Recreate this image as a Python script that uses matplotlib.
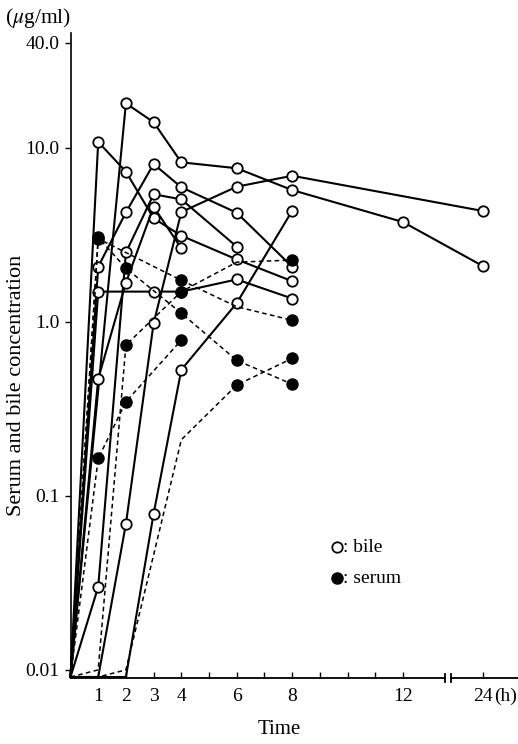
import numpy as np
import matplotlib
matplotlib.use("Agg")
import matplotlib.pyplot as plt

plt.rcParams['font.family'] = ['Liberation Serif', 'DejaVu Serif']
plt.rcParams['mathtext.fontset'] = 'stix'

ND = 0.0091  # not detected (plotted on the axis)

# ---- bile (open circles, solid lines) ----
bile_t = [
    [0, 2, 3, 4, 6, 8, 12, 24],
    [0, 1, 2, 3, 4, 6, 8],
    [0, 1, 2, 3, 4, 6, 8],
    [0, 1, 2, 3, 4, 6],
    [0, 1, 2, 3, 4],
    [0, 1, 3, 4, 6, 8],
    [0, 1, 2, 3, 4, 6, 8, 24],
    [0, 1, 2, 3, 4, 6, 8],
]
bile_v = [
    [ND, 18.0, 14.0, 8.24, 7.62, 5.71, 3.74, 2.09],
    [ND, 10.8, 7.28, 3.93, 3.12, 2.28, 1.71],
    [ND, 2.07, 4.25, 8.06, 5.92, 4.23, 2.07],
    [ND, 0.030, 2.5, 5.4, 5.05, 2.70],
    [ND, 0.47, 1.68, 4.58, 2.64],
    [ND, 1.49, 1.49, 1.49, 1.75, 1.36],
    [ND, ND, 0.069, 0.98, 4.27, 5.97, 6.9, 4.33],
    [ND, ND, ND, 0.079, 0.53, 1.28, 4.34],
]

# ---- serum (filled circles, dashed lines) ----
serum_t = [
    [0, 1, 2, 4, 6, 8],
    [0, 1, 2, 4],
    [0, 1, 2, 4, 6, 8],
    [0, 1, 2, 4, 6, 8],
    [0, 1, 4, 6, 8],
]
serum_v = [
    [ND, 3.05, 2.03, 1.12, 0.60, 0.438],
    [ND, 0.164, 0.347, 0.785],
    [ND, 0.0100, 0.735, 1.49, 2.2, 2.26],
    [ND, ND, 0.0100, 0.21, 0.433, 0.616],
    [ND, 3.0, 1.73, 1.22, 1.02],
]
serum_hidden_t = [[], [], [6], [4], [6]]

x_major = [1, 2, 3, 4, 6, 8, 12, 24]
x_major_labels = ['1', '2', '3', '4', '6', '8', '12', '24']
x_minor = [5, 7, 9, 10, 11]
y_ticks = [0.01, 0.1, 1.0, 10.0, 40.0]
y_labels = ['0.01', '0.1', '1.0', '10.0', '40.0']

# broken time axis: 13.5 h .. 22.9 h compressed
BRK_L, BRK_R = 13.52, 22.86
kt = [-100.0, BRK_L, BRK_R, 200.0]
kx = [-100.0, BRK_L, 13.74, 200.0 - (BRK_R - 13.74)]


def fwd(t):
    return np.interp(np.asarray(t, float), kt, kx)


def inv(x):
    return np.interp(np.asarray(x, float), kx, kt)


fig = plt.figure(figsize=(5.18, 7.44), dpi=100)
ax = fig.add_axes([70.5 / 518, 66 / 744, (518 - 70.5) / 518, (678 - 33) / 744])
ax.set_xscale('function', functions=(fwd, inv))
ax.set_yscale('log')
ax.set_xlim(0, 25.27)
ax.set_ylim(0.00898, 45.6)

for t, v in zip(bile_t, bile_v):
    me = [i for i, val in enumerate(v) if val > 0.0101]
    ax.plot(t, v, '-', color='black', lw=1.5, marker='o', ms=7.5,
            mfc='white', mec='black', mew=1.3, markevery=me, zorder=3,
            clip_on=False)

for t, v, hid in zip(serum_t, serum_v, serum_hidden_t):
    me = [i for i, val in enumerate(v) if val > 0.0101 and t[i] not in hid]
    ax.plot(t, v, color='black', lw=1.1, ls=(0, (3, 2.2)), marker='o', ms=8,
            mfc='black', mec='black', markevery=me, zorder=4, clip_on=False)

# axes styling
for s in ['top', 'right', 'bottom']:
    ax.spines[s].set_visible(False)
ax.spines['left'].set_linewidth(1.2)

xt = ax.get_xaxis_transform()
ax.plot([0, BRK_L], [0, 0], color='black', lw=1.3, transform=xt, clip_on=False, zorder=5)
ax.plot([BRK_R, 25.27], [0, 0], color='black', lw=1.3, transform=xt, clip_on=False, zorder=5)
for bx in (BRK_L, BRK_R):
    ax.plot([bx, bx], [-0.006, 0.006], color='black', lw=1.3, transform=xt,
            clip_on=False, zorder=5)

ax.set_xticks(x_major)
ax.set_xticklabels(x_major_labels)
ax.set_xticks(x_minor, minor=True)
ax.tick_params(axis='x', which='both', direction='in', length=4, width=1.0,
               labelsize=14, pad=7)
ax.set_yticks(y_ticks)
ax.set_yticklabels(y_labels)
ax.yaxis.set_minor_locator(matplotlib.ticker.NullLocator())
ax.tick_params(axis='y', which='major', direction='out', length=4, width=1.0,
               labelsize=14, pad=4)

ax.annotate('(h)', xy=(24, 0), xycoords=xt, xytext=(8, -7),
            textcoords='offset points', ha='left', va='top', fontsize=14)

fig.text(5 / 518, 1 - 18 / 744, r'($\mu$g/ml)', fontsize=15.5, ha='left', va='center')
fig.text(17 / 518, 1 - 385 / 744, 'Serum and bile concentration', rotation=90,
         fontsize=16, ha='center', va='center')
fig.text(279 / 518, 1 - 730 / 744, 'Time', fontsize=15, ha='center', va='center')

# legend
lx, ly1, ly2 = 0.5955, 0.2031, 0.155
ax.plot([lx], [ly1], 'o', ms=7.5, mfc='white', mec='black', mew=1.3,
        transform=ax.transAxes, clip_on=False)
ax.plot([lx], [ly2], 'o', ms=8, mfc='black', mec='black',
        transform=ax.transAxes, clip_on=False)
ax.text(lx + 0.013, ly1, ': bile', transform=ax.transAxes, fontsize=14,
        ha='left', va='center')
ax.text(lx + 0.013, ly2, ': serum', transform=ax.transAxes, fontsize=14,
        ha='left', va='center')

fig.savefig('out.png', dpi=100)
